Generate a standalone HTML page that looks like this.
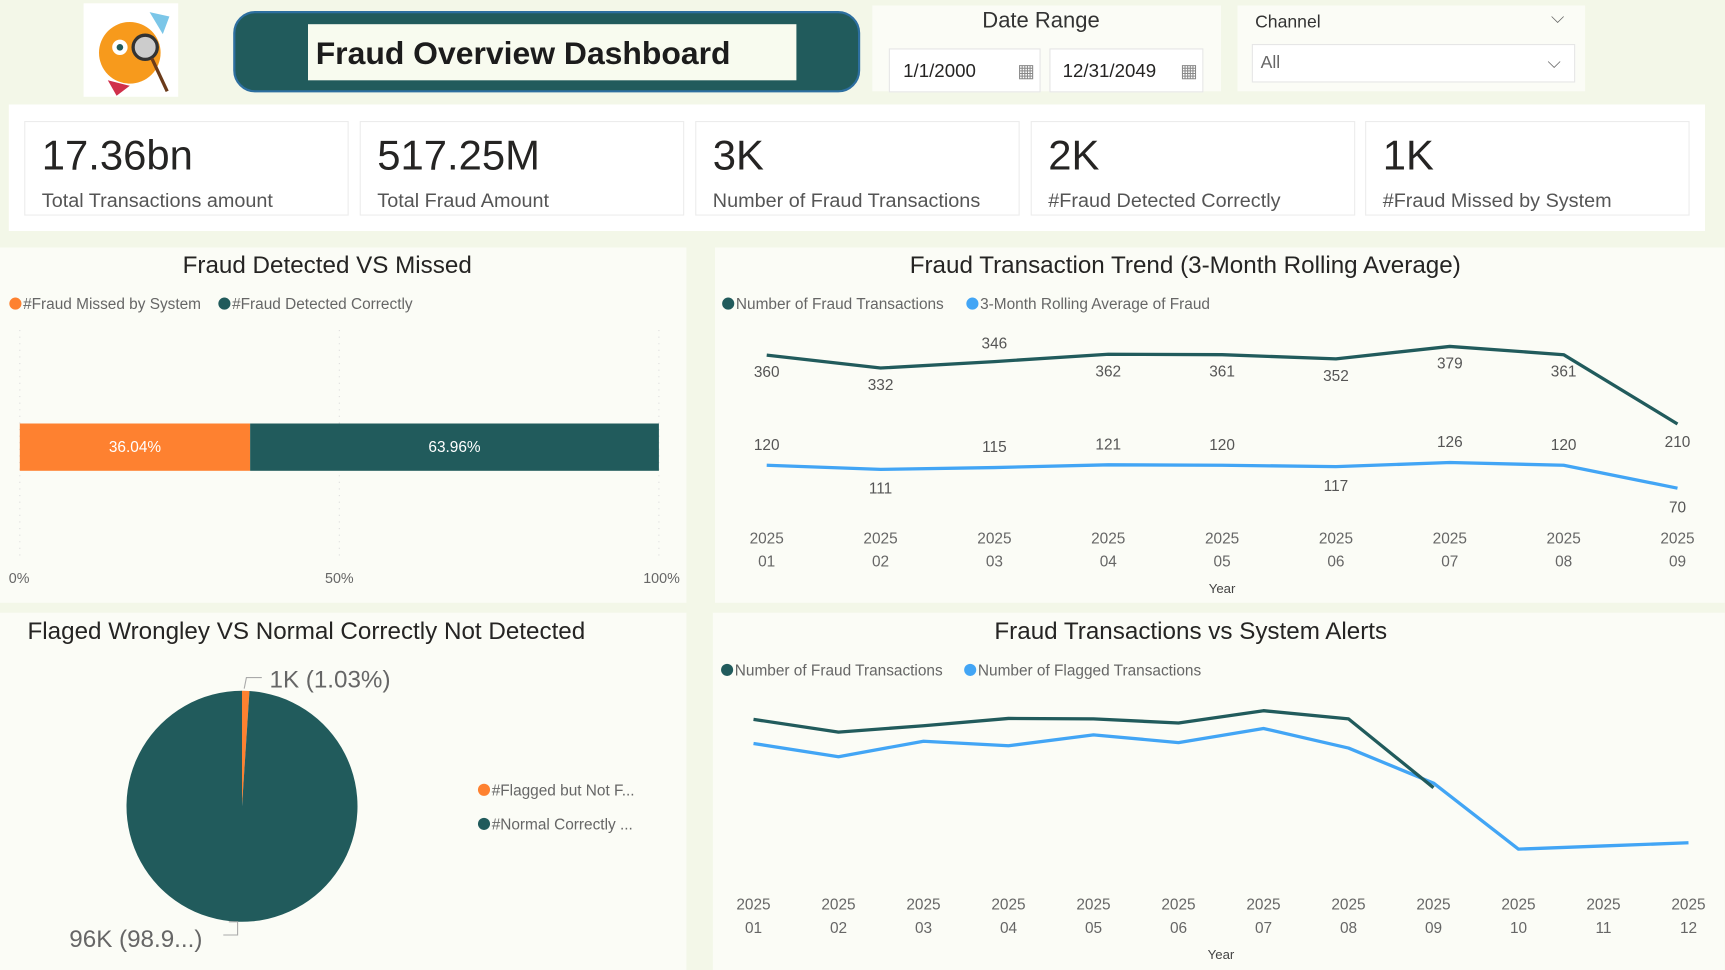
<!DOCTYPE html>
<html><head><meta charset="utf-8">
<style>
html,body{margin:0;padding:0;width:1725px;height:970px;overflow:hidden;background:#f3f7e8;}
#root{position:absolute;left:0;top:0;width:1568px;height:882px;transform:scale(1.1);transform-origin:0 0;font-family:"Liberation Sans",sans-serif;color:#252423;}
.abs{position:absolute;}
.panel{position:absolute;background:#fbfcf6;}
.kpi{position:absolute;top:110px;width:293px;height:84px;background:#fff;border:1px solid #ececec;}
.kpi .v{position:absolute;left:15px;top:10px;font-size:38px;color:#252423;}
.kpi .l{position:absolute;left:15px;top:61px;font-size:18px;color:#555;}
.ttl{position:absolute;font-size:22px;color:#252423;white-space:nowrap;}
svg text{font-family:"Liberation Sans",sans-serif;}
</style></head><body>
<div id="root">
  <div class="abs" style="left:76px;top:3px;width:86px;height:85px;background:#fff;">
    <svg width="86" height="85"><circle cx="42" cy="45" r="28" fill="#f79a1c"/><circle cx="33" cy="40" r="7" fill="#fff"/><circle cx="33" cy="40" r="3" fill="#215b5c"/><circle cx="56" cy="40" r="11" fill="#ccc" stroke="#333" stroke-width="3"/><line x1="62" y1="50" x2="76" y2="80" stroke="#6b3b1a" stroke-width="3"/><path d="M22 70 L42 75 L30 84 Z" fill="#d0304a"/><path d="M60 8 L78 12 L72 28 Z" fill="#7bc6e8"/></svg>
  </div>
  <div class="abs" style="left:212px;top:10px;width:566px;height:70px;background:#215b5c;border:2px solid #2d6fa0;border-radius:20px;"></div>
  <div class="abs" style="left:280px;top:22px;width:444px;height:51px;background:#f8fbef;font-weight:bold;font-size:29px;line-height:54px;text-indent:7px;color:#1c1c1c;">Fraud Overview Dashboard</div>

  <div class="panel" style="left:793px;top:5px;width:317px;height:78px;"></div>
  <div class="abs" style="left:893px;top:8px;font-size:20px;color:#333;">Date Range</div>
  <div class="abs" style="left:808px;top:44px;width:136px;height:38px;background:#fff;border:1px solid #e6e6e6;font-size:17px;line-height:40px;text-indent:12px;">1/1/2000<span style="position:absolute;right:4px;color:#888;">▦</span></div>
  <div class="abs" style="left:954px;top:44px;width:138px;height:38px;background:#fff;border:1px solid #e6e6e6;font-size:17px;line-height:40px;text-indent:11px;">12/31/2049<span style="position:absolute;right:4px;color:#888;">▦</span></div>

  <div class="panel" style="left:1125px;top:5px;width:316px;height:78px;"></div>
  <div class="abs" style="left:1141px;top:12px;font-size:16px;color:#333;">Channel</div>
  <div class="abs" style="left:1410px;top:8px;font-size:16px;color:#666;">⌵</div>
  <div class="abs" style="left:1138px;top:40px;width:292px;height:33px;background:#fff;border:1px solid #e6e6e6;font-size:16px;line-height:34px;text-indent:7px;color:#666;">All<span style="position:absolute;right:12px;">⌵</span></div>

  <div class="abs" style="left:8px;top:95px;width:1542px;height:115px;background:#fff;"></div>
  <div class="kpi" style="left:22px;"><div class="v">17.36bn</div><div class="l">Total Transactions amount</div></div>
  <div class="kpi" style="left:327px;"><div class="v">517.25M</div><div class="l">Total Fraud Amount</div></div>
  <div class="kpi" style="left:632px;"><div class="v">3K</div><div class="l">Number of Fraud Transactions</div></div>
  <div class="kpi" style="left:937px;"><div class="v">2K</div><div class="l">#Fraud Detected Correctly</div></div>
  <div class="kpi" style="left:1241px;"><div class="v">1K</div><div class="l">#Fraud Missed by System</div></div>

  <div class="panel" style="left:0;top:225px;width:624px;height:323px;"></div>
  <div class="panel" style="left:650px;top:225px;width:918px;height:323px;"></div>
  <div class="panel" style="left:0;top:557px;width:624px;height:325px;"></div>
  <div class="panel" style="left:648px;top:557px;width:920px;height:325px;"></div>

  <div class="ttl" style="left:166px;top:228px;">Fraud Detected VS Missed</div>
  <div class="ttl" style="left:827px;top:228px;">Fraud Transaction Trend (3-Month Rolling Average)</div>
  <div class="ttl" style="left:25px;top:561px;">Flaged Wrongley VS Normal Correctly Not Detected</div>
  <div class="ttl" style="left:904px;top:561px;">Fraud Transactions vs System Alerts</div>

  <svg id="svg" class="abs" style="left:0;top:0" width="1568" height="882"></svg>
</div>
<script>
// ---- data ----
const barCats = ["#Fraud Missed by System", "#Fraud Detected Correctly"];
const barVals = [36.04, 63.96];
const barTicks = ["0%", "50%", "100%"];
const trendMonths = ["01","02","03","04","05","06","07","08","09"];
const trendFraud = [360, 332, 346, 362, 361, 352, 379, 361, 210];
const trendRolling = [120, 111, 115, 121, 120, 117, 126, 120, 70];
const alertMonths = ["01","02","03","04","05","06","07","08","09","10","11","12"];
const alertFraud = [360, 332, 346, 362, 361, 352, 379, 361, 210];
const alertFlagged = [307, 278, 312, 302, 326, 309, 340, 297, 220, 75, 82, 89];
const pieCats = ["#Flagged but Not F...", "#Normal Correctly ..."];
const pieVals = [1.03, 98.97];
const pieLabels = ["1K (1.03%)", "96K (98.9...)"];

const TEAL = "#215b5c", ORANGE = "#fe8130", BLUE = "#42a5f5";
const svg = document.getElementById('svg');
const NS = "http://www.w3.org/2000/svg";
function mk(tag, attrs, parent) {
  const e = document.createElementNS(NS, tag);
  for (const k in attrs) e.setAttribute(k, attrs[k]);
  (parent || svg).appendChild(e);
  return e;
}
function txt(x, y, s, size, fill, anchor) {
  const t = mk('text', {x: x, y: y, 'font-size': size, fill: fill, 'text-anchor': anchor || 'start'});
  t.textContent = s;
  return t;
}
function legendDot(x, y, color, label, name) {
  const c = mk('circle', {cx: x, cy: y, r: 5.5, fill: color});
  
  
  const t = txt(x + 7, y + 5, label, 14, '#666');
  
  
}

// ---- bar chart ----
const bx0 = 18, bx1 = 599;
const bX = v => bx0 + (bx1 - bx0) * v / 100;
for (let i = 0; i <= 2; i++) {
  const x = bX(i * 50);
  mk('line', {x1: x, y1: 300, x2: x, y2: 510, stroke: '#ddd', 'stroke-dasharray': '1 5'});
  const t = txt(x, 530, barTicks[i], 13, '#666', i == 0 ? 'start' : i == 2 ? 'end' : 'middle');
  if (i == 2) t.setAttribute('x', 618);
  if (i == 0) t.setAttribute('x', 8);
  
  
}
legendDot(14, 276, ORANGE, barCats[0], 'legend-fraud-missed');
legendDot(204, 276, TEAL, barCats[1], 'legend-fraud-detected');
let acc = 0;
barVals.forEach((v, i) => {
  const r = mk('rect', {x: bX(acc), y: 385, width: bX(acc + v) - bX(acc), height: 43, fill: i ? TEAL : ORANGE});
  
  
  const t = txt((bX(acc) + bX(acc + v)) / 2, 411, v.toFixed(2) + '%', 14, '#fff', 'middle');
  
  
  acc += v;
});

// ---- trend chart ----
const tX = i => 697 + i * (1525 - 697) / (trendMonths.length - 1);
const tY = v => 473 - v * 0.417;
legendDot(662, 276, TEAL, "Number of Fraud Transactions", 'legend-trend-fraud');
legendDot(884, 276, BLUE, "3-Month Rolling Average of Fraud", 'legend-trend-rolling');
trendMonths.forEach((m, i) => {
  const a = txt(tX(i), 494, '2025', 14, '#666', 'middle');
  
  
  const b = txt(tX(i), 515, m, 14, '#666', 'middle');
  
  
});
const ty = txt(1111, 539, 'Year', 12, '#444', 'middle');


function line(vals, X, Y, color, name) {
  const p = mk('polyline', {points: vals.map((v, i) => X(i) + ',' + Y(v)).join(' '), fill: 'none', stroke: color, 'stroke-width': 3, 'stroke-linejoin': 'round'});
  
  
}
line(trendFraud, tX, tY, TEAL, 'line-fraud-trend');
line(trendRolling, tX, tY, BLUE, 'line-rolling-average');
trendFraud.forEach((v, i) => {
  const above = (i == 2);
  const t = txt(tX(i), above ? tY(v) - 12 : tY(v) + (i == 8 ? 21 : 20), v, 14, '#555', 'middle');
  
  
});
trendRolling.forEach((v, i) => {
  const below = (i == 1 || i == 5 || i == 8);
  const t = txt(tX(i), below ? tY(v) + 22 : tY(v) - 14, v, 14, '#555', 'middle');
  
  
});

// ---- alerts chart ----
const aX = i => 685 + i * (1535 - 685) / (alertMonths.length - 1);
const aY = v => 803 - v * 0.414;
legendDot(661, 609, TEAL, "Number of Fraud Transactions", 'legend-alerts-fraud');
legendDot(882, 609, BLUE, "Number of Flagged Transactions", 'legend-alerts-flagged');
alertMonths.forEach((m, i) => {
  const a = txt(aX(i), 827, '2025', 14, '#666', 'middle');
  
  
  const b = txt(aX(i), 848, m, 14, '#666', 'middle');
  
  
});
const ay = txt(1110, 872, 'Year', 12, '#444', 'middle');


line(alertFlagged, aX, aY, BLUE, 'line-flagged');
line(alertFraud, aX, aY, TEAL, 'line-alerts-fraud');

// ---- pie ----
const cx = 220, cy = 733, R = 105;
let ang = 0;
const pt = a => [cx + R * Math.sin(a * 2 * Math.PI / 100), cy - R * Math.cos(a * 2 * Math.PI / 100)];
pieVals.forEach((v, i) => {
  const p0 = pt(ang), p1 = pt(ang + v);
  const large = v > 50 ? 1 : 0;
  const s = mk('path', {d: `M${cx},${cy} L${p0[0]},${p0[1]} A${R},${R} 0 ${large} 1 ${p1[0]},${p1[1]} Z`, fill: i ? TEAL : ORANGE});
  
  
  ang += v;
});
mk('polyline', {points: '222,626 224,616 238,616', fill: 'none', stroke: '#aaa'});
mk('polyline', {points: '208,838 216,838 216,850 203,850', fill: 'none', stroke: '#aaa'});
const l1 = txt(245, 625, pieLabels[0], 22, '#666');


const l2 = txt(63, 861, pieLabels[1], 22, '#666');


legendDot(440, 718, ORANGE, pieCats[0], 'legend-flagged');
legendDot(440, 749, TEAL, pieCats[1], 'legend-normal');
</script>
</body></html>
